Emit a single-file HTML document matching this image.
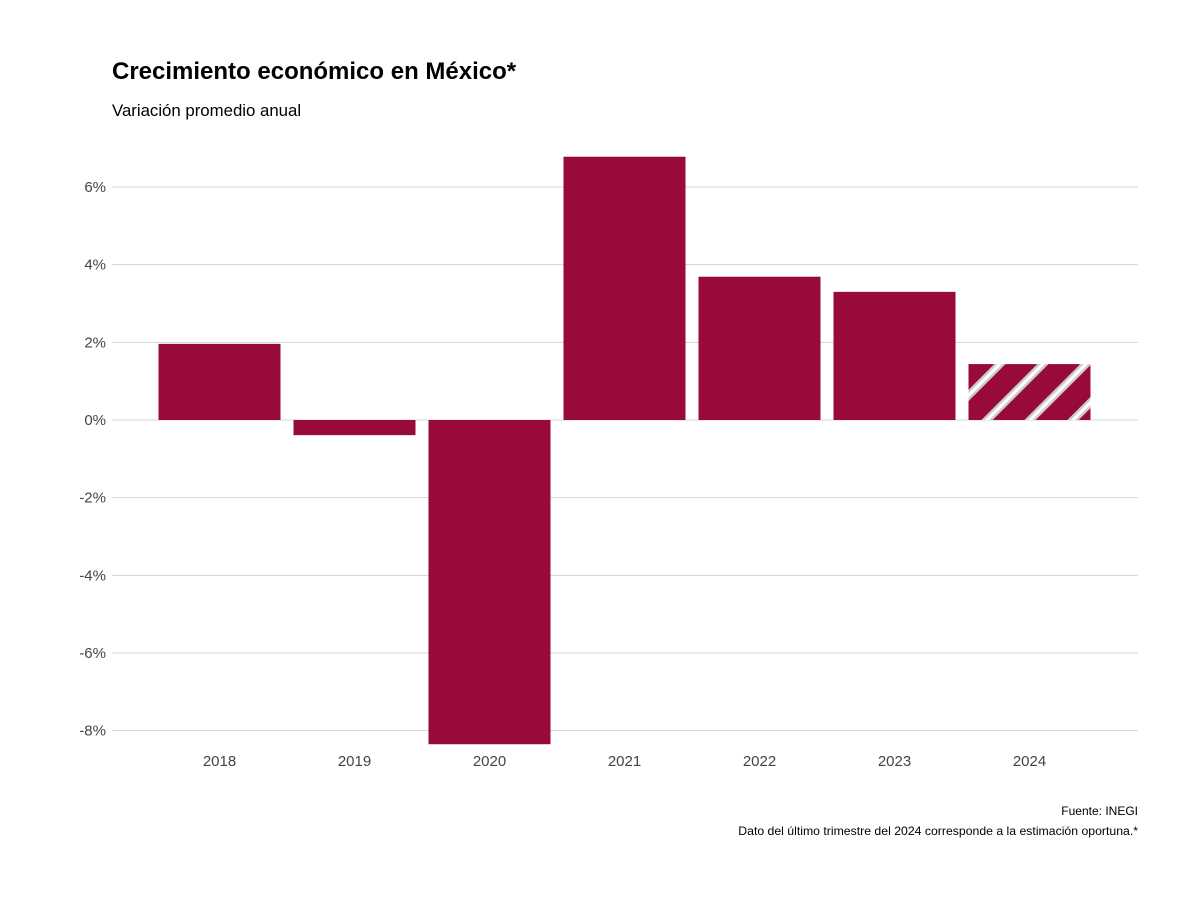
<!DOCTYPE html>
<html><head><meta charset="utf-8"><style>
body{margin:0;background:#fff;font-family:"Liberation Sans",sans-serif}
</style></head><body>
<svg id="c" width="1200" height="900" xmlns="http://www.w3.org/2000/svg">
<defs>
<pattern id="hatch" patternUnits="userSpaceOnUse" width="43" height="43" x="975" y="2">
<rect width="43" height="43" fill="#970a3b"/>
<g stroke="#cccccc" stroke-width="8"><line x1="-5" y1="48" x2="48" y2="-5"/><line x1="-5" y1="5" x2="5" y2="-5"/><line x1="38" y1="48" x2="48" y2="38"/></g>
<g stroke="#ffffff" stroke-width="3"><line x1="-5" y1="48" x2="48" y2="-5"/><line x1="-5" y1="5" x2="5" y2="-5"/><line x1="38" y1="48" x2="48" y2="38"/></g>
</pattern>
</defs>
<text x="112" y="79" font-size="24" font-weight="bold" fill="#000">Crecimiento económico en México*</text>
<text x="112" y="116" font-size="16.8" fill="#000">Variación promedio anual</text>
<g id="grid"></g><g id="bars"></g><g id="xl"></g>
<text x="1138" y="815" font-size="12" text-anchor="end" fill="#000">Fuente: INEGI</text>
<text x="1138" y="835" font-size="12.25" text-anchor="end" fill="#000">Dato del último trimestre del 2024 corresponde a la estimación oportuna.*</text>
</svg>
<script>
const years=["2018","2019","2020","2021","2022","2023","2024"];
const values=[1.96,-0.39,-8.35,6.78,3.69,3.30,1.44];
const estimated=[false,false,false,false,false,false,true];
const ticks=[6,4,2,0,-2,-4,-6,-8];
const ns="http://www.w3.org/2000/svg";
const y=v=>420-v*38.83;
const xc=i=>219.5+135*i;
const bw=122;
function mk(t,a,p){const e=document.createElementNS(ns,t);for(const k in a)e.setAttribute(k,a[k]);p.appendChild(e);return e;}
const g=document.getElementById('grid');
ticks.forEach(t=>{
 const l=mk('line',{x1:112,x2:1138,y1:y(t),y2:y(t),stroke:'#d3d3d3','stroke-width':1},g);
 
 
 const tx=mk('text',{x:106,y:y(t)+5,'font-size':15,'text-anchor':'end',fill:'#444'},g);
 tx.textContent=t+'%';
 
 
});
const b=document.getElementById('bars'),xl=document.getElementById('xl');
values.forEach((v,i)=>{
 const r=mk('rect',{x:xc(i)-bw/2,y:Math.min(y(v),y(0)),width:bw,height:Math.abs(y(v)-y(0)),fill:estimated[i]?'url(#hatch)':'#970a3b'},b);
 
 
 const t=mk('text',{x:xc(i),y:766,'font-size':15,'text-anchor':'middle',fill:'#444'},xl);
 t.textContent=years[i];
 
 
});
</script>
</body></html>
